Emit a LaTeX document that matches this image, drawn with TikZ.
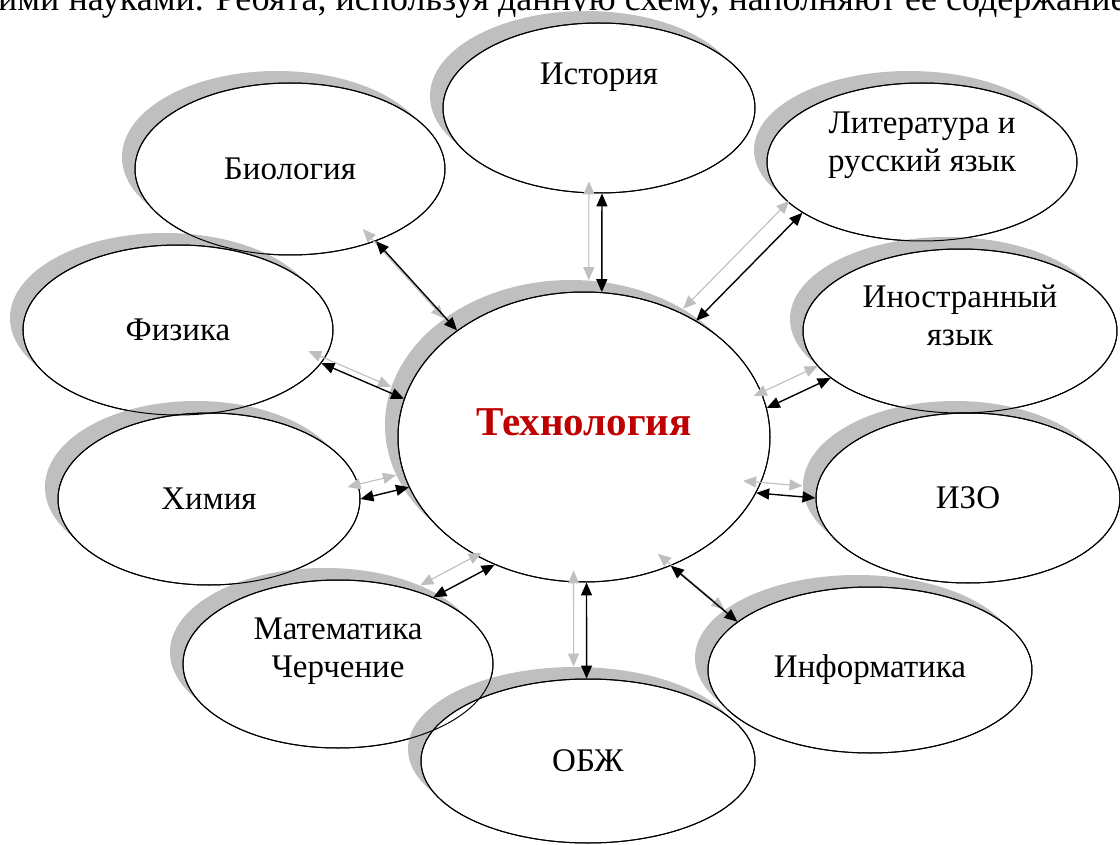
\documentclass[tikz,border=0pt]{standalone}
\usepackage{fontspec}
\setmainfont{Liberation Serif}
\usepackage{tikz}
\usetikzlibrary{arrows.meta,shapes.geometric,shadows,calc}

\definecolor{shadowgray}{RGB}{191,191,191}
\definecolor{techred}{RGB}{190,0,0}

\tikzset{
	subj/.style={ellipse, draw=black, line width=1pt, fill=white, align=center,
		minimum width=310pt, minimum height=170pt, inner sep=0pt,
		font=\fontsize{33}{38}\selectfont,
		drop shadow={shadow xshift=-13pt, shadow yshift=12pt, fill=shadowgray, opacity=1}},
	lift/.style={text depth=#1},
	link/.style={{Triangle[length=13pt,width=11pt]}-{Triangle[length=13pt,width=11pt]}, line width=1.4pt},
	linkshade/.style={link, line width=1.1pt, draw=shadowgray, fill=shadowgray, transform canvas={shift={(-13pt,12pt)}}}
}

\begin{document}
\begin{tikzpicture}[x=1pt,y=-1pt]
	\useasboundingbox (0,0) rectangle (1120,845);
	\clip (0,0) rectangle (1120,845);

	% line of text above the scheme
	\node[anchor=base west, inner sep=0pt, font=\fontsize{36}{40}\selectfont] (intro) at (-2,11)
		{ими науками. Ребята, используя данную схему, наполняют ее содержанием};

	% subjects, drawn in this order so that the shadows overlap as in the scheme
	\node[subj, minimum width=312pt, lift=68pt] (hist) at (599,108) {История};
	\node[subj, minimum height=172pt] (bio) at (290,169) {Биология};
	\node[subj] (phys) at (178,330) {Физика};
	\node[subj, minimum width=302pt, minimum height=172pt] (chem) at (209,499) {Химия};
	\node[subj, minimum height=168pt, lift=33pt] (math) at (338,664) {Математика\\Черчение};
	\node[subj, minimum width=334pt, minimum height=164pt] (obzh) at (588,761) {ОБЖ};
	\node[subj, minimum height=158pt, lift=40pt] (lit) at (922,162) {Литература и\\русский язык};
	\node[subj, minimum width=314pt, minimum height=164pt, lift=32pt] (inostr) at (960,331) {Иностранный\\язык};
	\node[subj, minimum width=304pt] (izo) at (968,498) {ИЗО};
	\node[subj, minimum width=324pt, minimum height=166pt] (inf) at (870,670) {Информатика};
	\node[subj, minimum width=372pt, minimum height=290pt, lift=30pt,
		font=\fontsize{41}{48}\selectfont\bfseries, text=techred] (tech) at (584,437) {Технология};

	% outlines again on top of the neighbouring shadows
	\foreach \nd in {hist,bio,phys,chem,math,obzh,lit,inostr,izo,inf,tech}
		\draw[line width=1pt] let \p1=(\nd.center), \p2=(\nd.east), \p3=(\nd.north) in
			(\p1) ellipse [x radius=\x2-\x1-0.5pt, y radius=\y3-\y1-0.5pt];

	% links to the centre
	\foreach \s/\a/\b in {hist/-88/83, bio/-40/140, lit/-157/46, phys/-13/168, chem/0/-164,
			math/35/-125, obzh/91/-89, inf/160/-56, izo/180/-18, inostr/-160/9}{
		\draw[linkshade] (\s.\a) -- (tech.\b);
		\draw[link] (\s.\a) -- (tech.\b);
	}
\end{tikzpicture}
\end{document}
